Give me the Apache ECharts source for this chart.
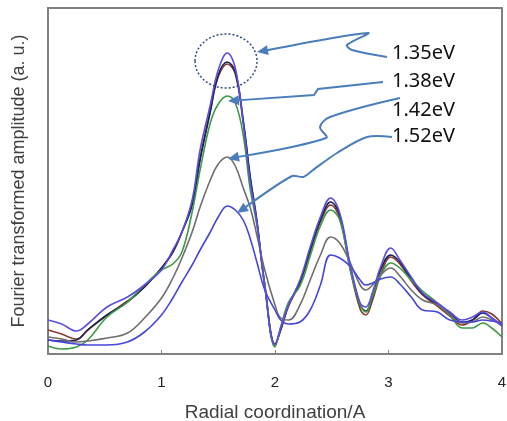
<!DOCTYPE html>
<html>
<head>
<meta charset="utf-8">
<script src="https://cdn.jsdelivr.net/npm/echarts@6/dist/echarts.min.js"></script>
<style>
  html, body { margin: 0; padding: 0; background: #fff; }
  #chart { width: 507px; height: 421px; }
</style>
</head>
<body>
<div id="chart"></div>
<script>
// radial coordinate (A)
var xs = [0, 0.12, 0.25, 0.35, 0.52, 0.7, 0.85, 1.0, 1.1, 1.18, 1.27, 1.34, 1.43, 1.5, 1.58, 1.65, 1.72, 1.78, 1.84, 1.91,
  2.0, 2.05, 2.12, 2.22, 2.31, 2.4, 2.49, 2.57, 2.66, 2.75, 2.8, 2.86, 2.93, 3.02, 3.1, 3.2, 3.3, 3.43, 3.54, 3.65, 3.74, 3.83, 3.91, 4.0];

// FT amplitudes (a.u.)
var violet = [34, 30, 23, 30, 47, 57, 69, 84, 104, 122, 154, 204, 249, 284, 301, 286, 231, 174, 132, 69,
  9, 26, 49, 74, 107, 137, 156, 141, 91, 51, 47, 62, 87, 106, 94, 77, 61, 51, 42, 34, 37, 42, 36, 28];
var navy = [14, 13, 14, 24, 39, 52, 67, 86, 102, 122, 149, 194, 242, 279, 292, 282, 234, 179, 134, 69,
  9, 24, 49, 72, 104, 134, 152, 139, 89, 49, 43, 58, 84, 99, 92, 75, 60, 50, 41, 32, 34, 41, 36, 28];
var brown = [24, 20, 15, 24, 39, 53, 67, 86, 102, 122, 151, 196, 244, 277, 290, 280, 232, 177, 132, 67,
  10, 24, 48, 71, 102, 132, 149, 136, 86, 45, 39, 54, 79, 97, 90, 73, 59, 48, 38, 29, 34, 43, 40, 30];
var green = [8, 5, 7, 14, 37, 52, 69, 84, 90, 102, 142, 184, 231, 250, 258, 251, 219, 166, 129, 69,
  7, 27, 52, 68, 98, 128, 144, 134, 86, 49, 42, 58, 78, 91, 86, 74, 63, 51, 39, 26, 26, 31, 26, 17];
var gray = [17, 15, 12, 13, 16, 21, 36, 56, 76, 96, 122, 147, 174, 190, 197, 188, 166, 147, 119, 84,
  49, 36, 34, 49, 74, 99, 117, 111, 92, 69, 64, 69, 79, 86, 78, 64, 54, 49, 39, 31, 32, 37, 34, 29];
var blue = [14, 12, 10, 9, 9, 12, 22, 39, 56, 72, 89, 104, 122, 137, 148, 144, 134, 116, 92, 64,
  44, 34, 30, 32, 44, 69, 99, 96, 88, 74, 69, 71, 75, 77, 70, 57, 44, 42, 34, 32, 32, 34, 33, 31];

var xTicks = ['0', '1', '2', '3', '4'];
var energyLabels = ['1.35eV', '1.38eV', '1.42eV', '1.52eV'];

function pairs(ys) {
  return xs.map(function (x, i) { return [x, ys[i]]; });
}

function line(name, ys, color) {
  return {
    name: name,
    type: 'line',
    smooth: 0.4,
    showSymbol: false,
    data: pairs(ys),
    lineStyle: { color: color, width: 1.6 },
    itemStyle: { color: color }
  };
}

var arrowColor = '#4a7ebb';
// 画带箭头的折线（像素坐标）
function arrow(pts, smooth) {
  var n = pts.length;
  var p1 = pts[n - 2], p2 = pts[n - 1];
  var ang = Math.atan2(p2[1] - p1[1], p2[0] - p1[0]);
  var L = 11, W = 5;
  var bx = p2[0] - L * Math.cos(ang), by = p2[1] - L * Math.sin(ang);
  var head = [
    [p2[0], p2[1]],
    [bx + W * Math.sin(ang), by - W * Math.cos(ang)],
    [bx - W * Math.sin(ang), by + W * Math.cos(ang)]
  ];
  var body = pts.slice(0, n - 1).concat([[bx + 2 * Math.cos(ang), by + 2 * Math.sin(ang)]]);
  return [
    { type: 'polyline', z: 100, shape: { points: body, smooth: smooth }, style: { stroke: arrowColor, lineWidth: 2, fill: null } },
    { type: 'polygon', z: 100, shape: { points: head }, style: { fill: arrowColor } }
  ];
}

var graphics = [].concat(
  [{ type: 'ellipse', z: 100, shape: { cx: 226, cy: 61, rx: 31, ry: 27 },
     style: { stroke: '#2f4d7e', lineWidth: 1.5, lineDash: [2, 2], fill: null } }],
  arrow([[387, 57], [352, 50], [347, 45], [368, 33], [257, 52]], 0.3),
  arrow([[383, 82], [318, 89], [314, 95], [228, 101]], 0),
  arrow([[400, 98], [330, 117], [320, 127], [326, 138], [228, 159]], 0.35),
  arrow([[392, 137], [367, 137], [337, 153], [313, 170], [303, 177], [292, 176], [237, 213]], 0.3)
);
var labelY = [55, 83, 112, 138];
energyLabels.forEach(function (t, i) {
  graphics.push({
    type: 'text', z: 100, left: 392, top: labelY[i] - 12,
    style: { text: t, fontSize: 20, fontFamily: 'Noto Sans', fill: '#111' }
  });
});

var chart = echarts.init(document.getElementById('chart'));
chart.setOption({
  animation: false,
  backgroundColor: '#fff',
  grid: {
    left: 48, right: 5, top: 8, bottom: 67,
    outerBoundsMode: 'none',
    show: true, borderColor: '#808080', borderWidth: 2
  },
  xAxis: {
    type: 'value', min: 0, max: 4, interval: 1,
    name: 'Radial coordination/A',
    nameLocation: 'middle', nameGap: 49,
    nameTextStyle: { fontSize: 19, color: '#404040', fontFamily: 'Liberation Sans' },
    axisLine: { lineStyle: { color: '#808080', width: 2 } },
    axisTick: { inside: true, length: 4, lineStyle: { color: '#808080' } },
    axisLabel: {
      margin: 21, fontSize: 15, color: '#222', fontFamily: 'Liberation Sans',
      formatter: function (v) { return xTicks[Math.round(v)]; }
    },
    splitLine: { show: false }
  },
  yAxis: {
    type: 'value', min: 0, max: 346,
    name: 'Fourier transformed amplitude (a. u.)',
    nameLocation: 'middle', nameGap: 20, nameRotate: 90,
    nameTextStyle: { fontSize: 18, color: '#404040', fontFamily: 'Liberation Sans' },
    axisLine: { show: false },
    axisTick: { show: false },
    axisLabel: { show: false },
    splitLine: { show: false }
  },
  series: [
    line('brown', brown, '#8b3b2e'),
    line('navy', navy, '#1c2250'),
    line('green', green, '#3d9a47'),
    line('gray', gray, '#6e6e6e'),
    line('blue', blue, '#4646dc'),
    line('violet', violet, '#5a4ee0')
  ],
  graphic: graphics
});
</script>
</body>
</html>
